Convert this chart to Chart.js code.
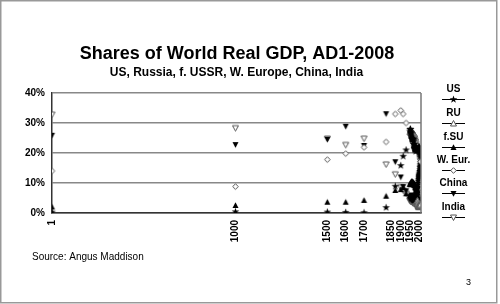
<!DOCTYPE html>
<html>
<head>
<meta charset="utf-8">
<script src="https://cdn.jsdelivr.net/npm/chart.js@4"></script>
<style>
html,body{margin:0;padding:0;background:#fff;}
canvas{display:block;}
</style>
</head>
<body>
<canvas id="c" width="500" height="304"></canvas>
<script>
// ---- Data (shares of world GDP, %) ----
const years = [1, 1000, 1500, 1600, 1700, 1820, 1870, 1900, 1913, 1929,
  1950, 1951, 1952, 1953, 1954, 1955, 1956, 1957, 1958, 1959,
  1960, 1961, 1962, 1963, 1964, 1965, 1966, 1967, 1968, 1969,
  1970, 1971, 1972, 1973, 1974, 1975, 1976, 1977, 1978, 1979,
  1980, 1981, 1982, 1983, 1984, 1985, 1986, 1987, 1988, 1989,
  1990, 1991, 1992, 1993, 1994, 1995, 1996, 1997, 1998, 1999,
  2000, 2001, 2002, 2003, 2004, 2005, 2006, 2007, 2008];

const us = [0.3, 0.4, 0.3, 0.2, 0.1, 1.8, 8.9, 15.8, 18.9, 21.0,
  27.3, 27.9, 27.8, 27.9, 26.8, 27.0, 26.5, 26.0, 25.0, 25.4,
  24.9, 24.5, 24.7, 24.5, 24.5, 24.6, 24.7, 24.5, 24.2, 23.8,
  22.9, 22.8, 22.8, 22.1, 21.5, 21.1, 21.3, 21.5, 21.7, 21.7,
  21.2, 21.2, 20.5, 20.9, 21.5, 21.7, 21.6, 21.5, 21.4, 21.4,
  21.3, 20.9, 21.0, 21.1, 21.3, 21.1, 21.2, 21.4, 21.8, 22.0,
  21.9, 21.4, 21.0, 20.6, 20.3, 20.0, 19.6, 19.1, 18.6];

const ru = [null, null, null, null, null, null, null, null, null, null,
  null, null, null, null, null, null, null, null, null, null,
  null, null, null, null, null, null, null, null, null, null,
  null, null, null, null, null, null, null, null, null, null,
  null, null, null, null, null, null, null, null, null, null,
  4.2, 4.0, 3.3, 3.0, 2.6, 2.4, 2.3, 2.3, 2.1, 2.1,
  2.2, 2.3, 2.3, 2.4, 2.4, 2.5, 2.6, 2.7, 2.8];

const fsu = [2.0, 2.5, 3.6, 3.6, 4.2, 5.6, 7.5, 7.8, 8.5, 6.4,
  9.6, 9.4, 9.6, 9.6, 9.6, 9.9, 10.2, 10.0, 10.4, 10.1,
  10.3, 10.5, 10.3, 9.9, 10.3, 10.2, 10.1, 10.0, 10.0, 9.6,
  9.9, 9.6, 9.3, 9.4, 9.5, 9.3, 9.4, 9.2, 9.0, 8.7,
  8.6, 8.4, 8.4, 8.4, 8.2, 7.9, 7.9, 7.7, 7.6, 7.5,
  7.3, 6.7, 5.7, 5.0, 4.3, 4.0, 3.8, 3.7, 3.5, 3.6,
  3.7, 3.7, 3.8, 3.9, 4.0, 4.1, 4.2, 4.3, 4.4];

const weur = [14.0, 8.8, 17.8, 19.8, 21.9, 23.7, 33.0, 34.2, 33.0, 30.0,
  26.2, 26.4, 26.1, 26.3, 26.7, 26.9, 26.9, 26.9, 27.0, 26.8,
  26.8, 26.8, 26.7, 26.5, 26.4, 26.3, 26.1, 26.0, 25.8, 25.7,
  25.8, 25.7, 25.6, 25.6, 25.6, 25.1, 25.0, 24.7, 24.5, 24.4,
  24.3, 23.9, 23.7, 23.3, 23.0, 22.8, 22.6, 22.5, 22.4, 22.2,
  22.2, 22.3, 22.0, 21.4, 21.2, 21.0, 20.6, 20.3, 20.2, 20.1,
  20.0, 19.9, 19.6, 19.2, 18.8, 18.4, 18.1, 17.8, 17.1];

const china = [25.9, 22.8, 24.6, 28.9, 22.5, 33.1, 17.1, 12.0, 8.8, 7.4,
  4.6, 4.9, 5.2, 5.3, 5.2, 5.3, 5.6, 5.6, 6.0, 5.6,
  5.2, 4.2, 4.2, 4.4, 4.6, 4.8, 4.9, 4.6, 4.3, 4.6,
  4.9, 4.9, 4.8, 4.6, 4.7, 4.9, 4.7, 4.8, 5.0, 5.2,
  5.3, 5.5, 5.9, 6.2, 6.7, 7.2, 7.5, 7.9, 8.1, 8.0,
  7.8, 8.2, 8.9, 9.6, 10.3, 10.9, 11.4, 11.8, 12.2, 12.6,
  13.0, 13.5, 14.1, 14.8, 15.3, 15.9, 16.5, 17.1, 17.5];

const india = [32.8, 28.3, 24.8, 22.7, 24.8, 16.2, 12.9, 8.6, 7.5, 6.5,
  4.2, 4.1, 4.0, 4.1, 4.1, 4.0, 4.0, 3.9, 4.0, 3.9,
  3.9, 3.9, 3.8, 3.7, 3.8, 3.5, 3.4, 3.5, 3.4, 3.5,
  3.5, 3.4, 3.3, 3.1, 3.2, 3.3, 3.2, 3.3, 3.3, 3.1,
  3.2, 3.3, 3.4, 3.5, 3.5, 3.6, 3.7, 3.7, 3.8, 3.9,
  4.0, 4.0, 4.1, 4.2, 4.3, 4.5, 4.6, 4.7, 4.9, 5.1,
  5.2, 5.3, 5.4, 5.5, 5.7, 5.9, 6.1, 6.4, 6.7];

const xTickValues = [1, 1000, 1500, 1600, 1700, 1850, 1900, 1950, 2000];
const seriesLabels = ['US', 'RU', 'f.SU', 'W. Eur.', 'China', 'India'];

// ---- marker images ----
function marker(kind) {
  const c = document.createElement('canvas');
  c.width = 9; c.height = 9;
  const g = c.getContext('2d');
  g.translate(4.5, 4.5);
  g.lineWidth = 1;
  g.beginPath();
  if (kind === 'star') {
    for (let i = 0; i < 10; i++) {
      const r = i % 2 ? 1.6 : 4;
      const a = -Math.PI / 2 + i * Math.PI / 5;
      g.lineTo(r * Math.cos(a), r * Math.sin(a));
    }
    g.closePath(); g.fillStyle = '#000'; g.fill();
  } else if (kind === 'triUpOpen') {
    g.moveTo(0, -3); g.lineTo(3, 2.5); g.lineTo(-3, 2.5); g.closePath();
    g.fillStyle = '#fff'; g.fill(); g.strokeStyle = '#555'; g.stroke();
  } else if (kind === 'triUp') {
    g.moveTo(0, -3.2); g.lineTo(3, 2.6); g.lineTo(-3, 2.6); g.closePath();
    g.fillStyle = '#000'; g.fill();
  } else if (kind === 'diamondOpen') {
    g.moveTo(0, -2.8); g.lineTo(2.8, 0); g.lineTo(0, 2.8); g.lineTo(-2.8, 0); g.closePath();
    g.fillStyle = '#fff'; g.fill(); g.strokeStyle = '#555'; g.stroke();
  } else if (kind === 'triDown') {
    g.moveTo(-3, -2.6); g.lineTo(3, -2.6); g.lineTo(0, 3.2); g.closePath();
    g.fillStyle = '#000'; g.fill();
  } else if (kind === 'triDownOpen') {
    g.moveTo(-3, -2.5); g.lineTo(3, -2.5); g.lineTo(0, 3); g.closePath();
    g.fillStyle = '#fff'; g.fill(); g.strokeStyle = '#555'; g.stroke();
  }
  return c;
}
const markers = [marker('star'), marker('triUpOpen'), marker('triUp'),
  marker('diamondOpen'), marker('triDown'), marker('triDownOpen')];

function pts(vals) {
  const out = [];
  years.forEach((yr, i) => { if (vals[i] !== null) out.push({x: yr, y: vals[i]}); });
  return out;
}
const seriesValues = [us, ru, fsu, weur, china, india];
const datasets = seriesValues.map((v, i) => ({
  label: seriesLabels[i],
  data: pts(v),
  pointStyle: markers[i],
  showLine: false
}));

const FONT = '"Liberation Sans", Arial, sans-serif';

const decor = {
  id: 'decor',
  afterDraw(chart) {
    const ctx = chart.ctx;
    const a = chart.chartArea;
    ctx.save();
    // right border of plot
    ctx.strokeStyle = '#777'; ctx.lineWidth = 1.5;
    ctx.beginPath(); ctx.moveTo(a.right, a.top); ctx.lineTo(a.right, a.bottom); ctx.stroke();
    // titles
    ctx.fillStyle = '#000';
    ctx.textAlign = 'center'; ctx.textBaseline = 'alphabetic';
    ctx.font = 'bold 18px ' + FONT;
    ctx.fillText('Shares of World Real GDP, AD1-2008', 237, 59);
    ctx.font = 'bold 12px ' + FONT;
    ctx.fillText('US, Russia, f. USSR, W. Europe, China, India', 236.5, 76);
    // source and page number
    ctx.textAlign = 'left';
    ctx.font = '10px ' + FONT;
    ctx.fillText('Source: Angus Maddison', 32, 260);
    ctx.font = '9px ' + FONT;
    ctx.fillText('3', 466, 285);
    // legend
    const textY = [89, 113, 137, 160, 183, 207];
    ctx.font = 'bold 10px ' + FONT;
    ctx.textAlign = 'center'; ctx.textBaseline = 'middle';
    chart.data.datasets.forEach((ds, i) => {
      ctx.fillStyle = '#000';
      ctx.fillText(ds.label, 453.5, textY[i]);
      const ly = textY[i] + 10.5;
      ctx.strokeStyle = '#000'; ctx.lineWidth = 1;
      ctx.beginPath(); ctx.moveTo(442, ly); ctx.lineTo(465, ly); ctx.stroke();
      ctx.drawImage(ds.pointStyle, 453.5 - 4.5, ly - 4.5);
    });
    // frame
    ctx.strokeStyle = '#999'; ctx.lineWidth = 1.5;
    ctx.strokeRect(0.75, 0.75, 496, 302);
    ctx.restore();
  }
};

new Chart(document.getElementById('c'), {
  type: 'scatter',
  data: { datasets },
  options: {
    responsive: false,
    animation: false,
    events: [],
    layout: { padding: { top: 93, right: 79, left: 0, bottom: 0 } },
    plugins: { legend: { display: false }, tooltip: { enabled: false }, title: { display: false } },
    scales: {
      x: {
        type: 'linear', min: 1, max: 2010,
        afterBuildTicks: (axis) => { axis.ticks = xTickValues.map(v => ({ value: v })); },
        afterFit: (s) => { s.height = 91; },
        grid: { display: false, drawTicks: false },
        border: { display: true, color: '#333', width: 1.5 },
        ticks: {
          autoSkip: false, maxRotation: 90, minRotation: 90, padding: 7,
          color: '#000', font: { family: FONT, size: 10, weight: 'bold' },
          callback: (v) => String(v)
        }
      },
      y: {
        min: 0, max: 40,
        afterFit: (s) => { s.width = 52; },
        grid: { color: '#888', lineWidth: 1.5, drawTicks: false },
        border: { display: true, color: '#333', width: 1.5 },
        ticks: {
          stepSize: 10, padding: 7, color: '#000',
          font: { family: FONT, size: 10, weight: 'bold' },
          callback: (v) => v + '%'
        }
      }
    }
  },
  plugins: [decor]
});
</script>
</body>
</html>
